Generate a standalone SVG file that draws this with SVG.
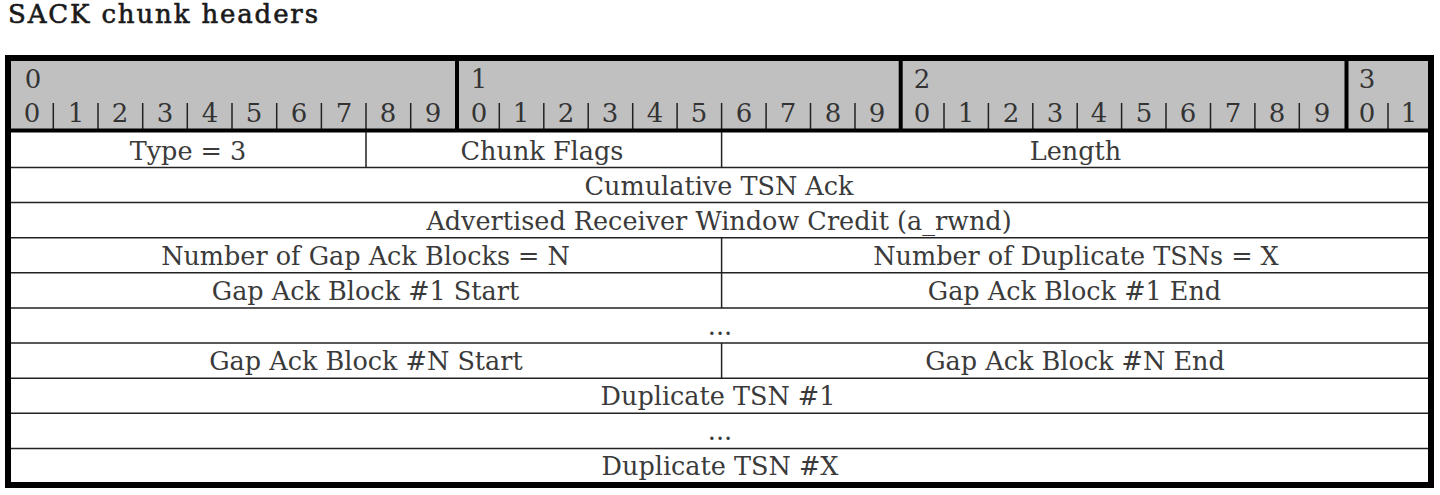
<svg xmlns="http://www.w3.org/2000/svg" width="1440" height="495" viewBox="0 0 1440 495">
<style>
.t{font-family:"DejaVu Serif",serif;font-size:25.5px;fill:#3a3a3a;text-anchor:middle}
.d{font-family:"DejaVu Serif",serif;font-size:26px;fill:#333;text-anchor:middle}
.title{font-family:"DejaVu Serif",serif;font-size:26px;fill:#1a1a1a;stroke:#1a1a1a;stroke-width:0.6}
.thin{stroke:#222;stroke-width:1.5;fill:none}
.thick{stroke:#000;stroke-width:4;fill:none}
</style>
<rect width="1440" height="495" fill="#fff"/>
<text class="title" x="8" y="23" textLength="310" lengthAdjust="spacing">SACK chunk headers</text>
<g id="header">
<rect x="8" y="58" width="1423" height="72" fill="#c0c0c0"/>
</g>
<g id="grid">
<path class="thin" d="M53.3 103V130M98 103V130M142.7 103V130M187.3 103V130M232 103V130M276.7 103V130M321.4 103V130M366 103V130M410.7 103V130"/>
<path class="thin" d="M499.3 103V130M543.8 103V130M588.2 103V130M632.7 103V130M677.1 103V130M721.6 103V130M766.1 103V130M810.5 103V130M855 103V130"/>
<path class="thin" d="M944 103V130M988.4 103V130M1032.8 103V130M1077.2 103V130M1121.6 103V130M1166 103V130M1210.5 103V130M1254.9 103V130M1299.3 103V130M1388 103V130"/>
<path class="thick" d="M457 58V130M900.7 58V130M1346.5 58V130M8 130.5H1431"/>
<path class="thin" d="M8 167.5H1431M8 202.6H1431M8 237.7H1431M8 272.8H1431M8 308H1431M8 343H1431M8 378.2H1431M8 413.3H1431M8 448.4H1431"/>
<path class="thin" d="M366 132V167.5M721.6 132V167.5M721.6 237.7V308M721.6 343V378.2"/>
<rect x="8" y="58" width="1423" height="427" fill="none" stroke="#000" stroke-width="6"/>
</g>
<g id="bits">
<text class="d" x="33" y="88">0</text>
<text class="d" x="479" y="88">1</text>
<text class="d" x="922" y="88">2</text>
<text class="d" x="1367" y="88">3</text>
<text class="d" x="32" y="122">0</text>
<text class="d" x="76" y="122">1</text>
<text class="d" x="120" y="122">2</text>
<text class="d" x="165" y="122">3</text>
<text class="d" x="210" y="122">4</text>
<text class="d" x="254" y="122">5</text>
<text class="d" x="299" y="122">6</text>
<text class="d" x="344" y="122">7</text>
<text class="d" x="388" y="122">8</text>
<text class="d" x="433" y="122">9</text>
<text class="d" x="479" y="122">0</text>
<text class="d" x="521" y="122">1</text>
<text class="d" x="566" y="122">2</text>
<text class="d" x="610" y="122">3</text>
<text class="d" x="655" y="122">4</text>
<text class="d" x="699" y="122">5</text>
<text class="d" x="744" y="122">6</text>
<text class="d" x="788" y="122">7</text>
<text class="d" x="833" y="122">8</text>
<text class="d" x="877" y="122">9</text>
<text class="d" x="922" y="122">0</text>
<text class="d" x="966" y="122">1</text>
<text class="d" x="1011" y="122">2</text>
<text class="d" x="1055" y="122">3</text>
<text class="d" x="1099" y="122">4</text>
<text class="d" x="1144" y="122">5</text>
<text class="d" x="1188" y="122">6</text>
<text class="d" x="1233" y="122">7</text>
<text class="d" x="1277" y="122">8</text>
<text class="d" x="1322" y="122">9</text>
<text class="d" x="1367" y="122">0</text>
<text class="d" x="1409" y="122">1</text>
</g>
<g id="row1">
<text class="t" x="188" y="160">Type = 3</text>
<text class="t" x="542" y="160">Chunk Flags</text>
<text class="t" x="1075.5" y="160">Length</text>
</g>
<g id="row2"><text class="t" x="719" y="195">Cumulative TSN Ack</text></g>
<g id="row3"><text class="t" x="719" y="230">Advertised Receiver Window Credit (a_rwnd)</text></g>
<g id="row4">
<text class="t" x="365.5" y="265">Number of Gap Ack Blocks = N</text>
<text class="t" x="1076" y="265">Number of Duplicate TSNs = X</text>
</g>
<g id="row5">
<text class="t" x="365.5" y="300">Gap Ack Block #1 Start</text>
<text class="t" x="1074.5" y="300">Gap Ack Block #1 End</text>
</g>
<g id="row6"><text class="t" x="720" y="335">...</text></g>
<g id="row7">
<text class="t" x="366" y="370">Gap Ack Block #N Start</text>
<text class="t" x="1075" y="370">Gap Ack Block #N End</text>
</g>
<g id="row8"><text class="t" x="718" y="405">Duplicate TSN #1</text></g>
<g id="row9"><text class="t" x="720" y="440">...</text></g>
<g id="row10"><text class="t" x="720" y="475">Duplicate TSN #X</text></g>
</svg>
